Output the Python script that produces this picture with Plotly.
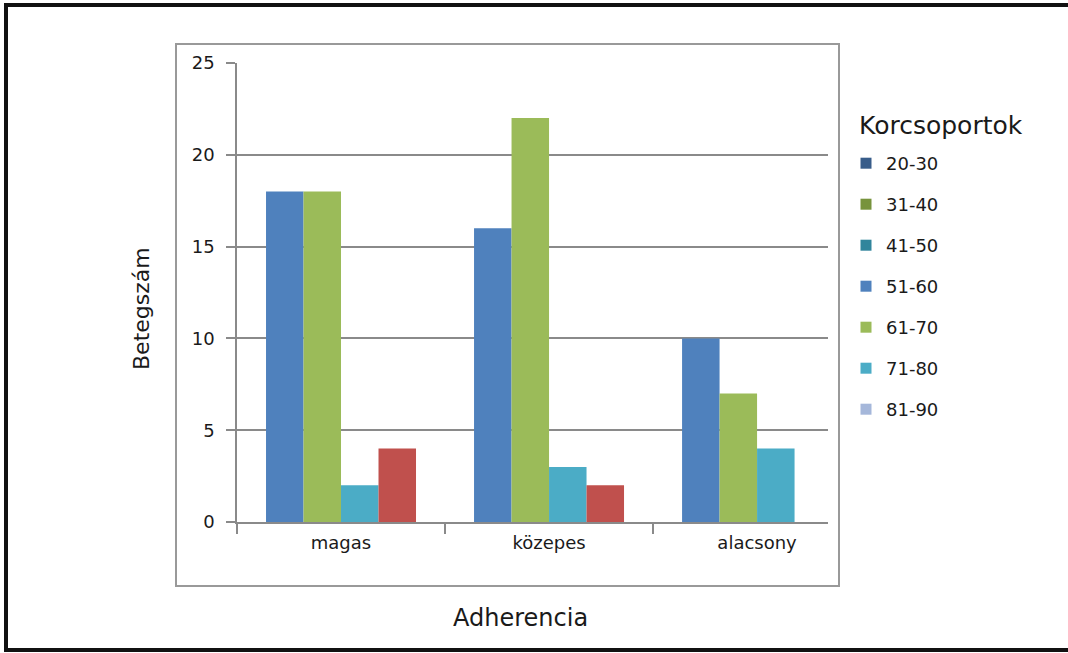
import plotly.graph_objects as go

# Adherence categories on the x axis
categories = ["magas", "közepes", "alacsony"]

# Patient counts per age group (series drawn as bars)
bar_series = ["51-60", "61-70", "71-80", "egyéb"]
values_51_60 = [18, 16, 10]
values_61_70 = [18, 22, 7]
values_71_80 = [2, 3, 4]
values_other = [4, 2, 0]
bar_values = [values_51_60, values_61_70, values_71_80, values_other]
bar_colors = ["#4F81BD", "#9BBB59", "#4BACC6", "#C0504D"]

# Age groups listed in the legend
legend_title = "Korcsoportok"
legend_groups = ["20-30", "31-40", "41-50", "51-60", "61-70", "71-80", "81-90"]
legend_colors = ["#385D8A", "#77933C", "#31859C", "#4F81BD", "#9BBB59", "#4BACC6", "#A5B7DA"]

y_ticks = [0, 5, 10, 15, 20, 25]

W, H = 1068, 653
ML, MR, MT, MB = 237, 240, 63, 131
PW, PH = W - ML - MR, H - MT - MB


def px_x(p):
    return (p - ML) / PW


def px_y(p):
    return (H - MB - p) / PH


FONT = "DejaVu Sans"
TXT = "#1a1a1a"
GRID = "#8a8a8a"

fig = go.Figure()

for name, vals, col in zip(bar_series, bar_values, bar_colors):
    fig.add_trace(go.Bar(
        x=categories, y=vals, name=name, marker=dict(color=col, line=dict(width=0)),
        showlegend=False,
    ))

for name, col in zip(legend_groups, legend_colors):
    fig.add_trace(go.Scatter(
        x=[None], y=[None], mode="markers", name=name,
        marker=dict(symbol="square", size=11, color=col),
        legendgroup=name, showlegend=True,
    ))

fig.update_layout(
    width=W, height=H,
    margin=dict(l=ML, r=MR, t=MT, b=MB, pad=0),
    paper_bgcolor="white", plot_bgcolor="white",
    barmode="group", bargap=0.279, bargroupgap=0,
    font=dict(family=FONT, color=TXT, size=18),
    xaxis=dict(
        type="category", categoryorder="array", categoryarray=categories,
        range=[-0.5, 2.341], showgrid=False,
        showline=True, linecolor=GRID, linewidth=1.5,
        ticks="outside", tickson="boundaries", ticklen=10, tickcolor=GRID, tickwidth=1.5,
        tickfont=dict(size=18, color=TXT, family=FONT),
        ticklabelstandoff=4,
    ),
    yaxis=dict(
        range=[0, 25], tickvals=y_ticks, showgrid=True, gridcolor=GRID, gridwidth=1.6,
        zeroline=False, showline=True, linecolor=GRID, linewidth=1.5,
        ticks="outside", ticklen=9, tickcolor=GRID, tickwidth=1.5,
        tickfont=dict(size=18, color=TXT, family=FONT),
        ticklabelstandoff=8,
    ),
    legend=dict(
        font=dict(size=18, color=TXT, family=FONT),
        x=px_x(846), y=px_y(145), xanchor="left", yanchor="top",
        traceorder="grouped", tracegroupgap=14.6,
        bgcolor="rgba(0,0,0,0)", borderwidth=0,
    ),
    annotations=[
        dict(text=legend_title, xref="paper", yref="paper", x=px_x(857), y=px_y(126),
             showarrow=False, font=dict(size=25, color=TXT, family=FONT),
             xanchor="left", yanchor="middle"),
        dict(text="Adherencia", xref="paper", yref="paper", x=px_x(520), y=px_y(618),
             showarrow=False, font=dict(size=24, color=TXT, family=FONT),
             xanchor="center", yanchor="middle"),
        dict(text="Betegszám", xref="paper", yref="paper", x=px_x(141), y=px_y(309),
             showarrow=False, textangle=-90, font=dict(size=22, color=TXT, family=FONT),
             xanchor="center", yanchor="middle"),
    ],
    shapes=[
        # chart area frame
        dict(type="rect", xref="paper", yref="paper",
             x0=px_x(176), x1=px_x(839), y0=px_y(586), y1=px_y(44),
             line=dict(color="#999999", width=2)),
        # outer frame (left, top, bottom)
        dict(type="line", xref="paper", yref="paper",
             x0=px_x(6), x1=px_x(6), y0=px_y(4), y1=px_y(651),
             line=dict(color="#111111", width=4)),
        dict(type="line", xref="paper", yref="paper",
             x0=px_x(4), x1=px_x(1068), y0=px_y(5), y1=px_y(5),
             line=dict(color="#111111", width=4)),
        dict(type="line", xref="paper", yref="paper",
             x0=px_x(4), x1=px_x(1068), y0=px_y(650), y1=px_y(650),
             line=dict(color="#111111", width=4)),
    ],
)

fig.write_html("out.html")
